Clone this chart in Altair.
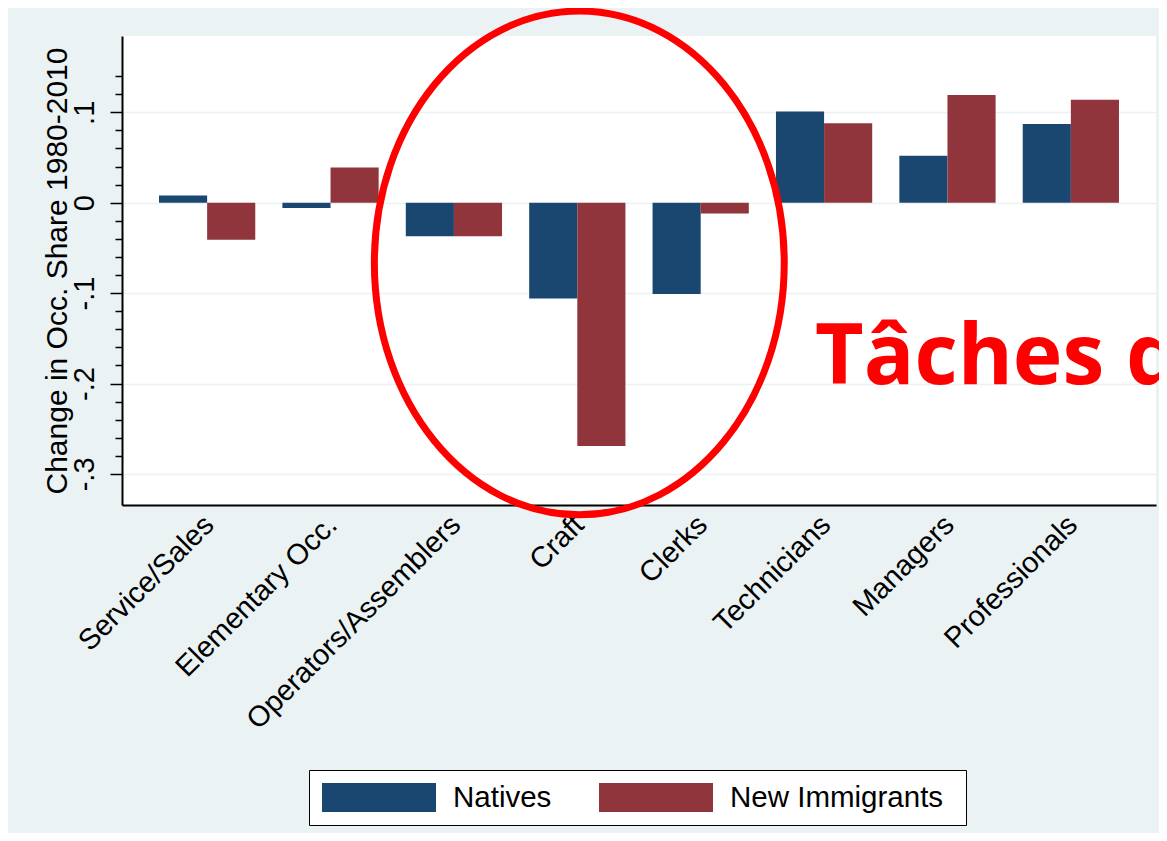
import altair as alt
import pandas as pd

categories = ["Service/Sales", "Elementary Occ.", "Operators/Assemblers", "Craft",
              "Clerks", "Technicians", "Managers", "Professionals"]
series = ["Natives", "New Immigrants"]
natives = [0.008, -0.006, -0.037, -0.106, -0.101, 0.101, 0.052, 0.087]
immigrants = [-0.041, 0.039, -0.037, -0.269, -0.012, 0.088, 0.119, 0.114]
colors = ["#1A476F", "#90353B"]

y_ticks = [-0.3, -0.28, -0.26, -0.24, -0.22, -0.2, -0.18, -0.16, -0.14, -0.12,
           -0.1, -0.08, -0.06, -0.04, -0.02, 0, 0.02, 0.04, 0.06, 0.08, 0.1,
           0.12, 0.14]
y_domain = [-0.3344, 0.1844]

# annotation anchors (data coordinates)
ellipse_cat = ["Craft"]
ellipse_val = [-0.0655]
note_cat = ["Technicians"]
note_val = [-0.2]
note_text = ["Tâches de"]

rows = []
for c, n, m in zip(categories, natives, immigrants):
    rows.append({"occ": c, "group": series[0], "value": n})
    rows.append({"occ": c, "group": series[1], "value": m})
df = pd.DataFrame(rows)

FONT = "Liberation Sans"
major = "abs(datum.value * 10 - round(datum.value * 10)) < 0.001"
label_expr = ("datum.value == 0 ? '0' : (" + major +
              " ? (datum.value < 0 ? '-' : '') + '.' + toString(round(abs(datum.value) * 10)) : '')")

x_enc = alt.X(
    "occ:N", sort=categories, title=None,
    scale=alt.Scale(paddingInner=0.22, paddingOuter=0.3),
    axis=alt.Axis(labelAngle=-45, labelFontSize=29, labelFont=FONT, labelColor="#000000",
                  labelPadding=5, labelOffset=-8, ticks=False, labelLimit=500,
                  labelOverlap=False, domainColor="#000000", domainWidth=2, grid=False),
)
y_enc = alt.Y(
    "value:Q",
    scale=alt.Scale(domain=y_domain, nice=False, zero=False),
    axis=alt.Axis(
        values=y_ticks, tickCount=200, labelExpr=label_expr, labelAngle=-90,
        labelAlign="center", labelBaseline="alphabetic", labelFontSize=29, labelFont=FONT,
        labelColor="#000000", labelPadding=17, labelOverlap=False, labelFlush=False,
        tickSize={"condition": {"test": major, "value": 12}, "value": 7},
        tickColor="#000000", tickWidth=1.5,
        grid=True, gridColor="#EAF2F3", gridWidth=1.5,
        gridOpacity={"condition": {"test": major, "value": 1}, "value": 0},
        domainColor="#000000", domainWidth=2,
        title="Change in Occ. Share 1980-2010", titleFont=FONT, titleFontSize=30,
        titleFontWeight="normal", titleColor="#000000", titleAngle=-90,
        titleAlign="center", titleBaseline="alphabetic", titleX=-56, titleY=234.5,
    ),
)

bars = alt.Chart(df).mark_bar().encode(
    x=x_enc,
    xOffset=alt.XOffset("group:N", sort=series,
                        scale=alt.Scale(paddingInner=0, paddingOuter=0)),
    y=y_enc,
    color=alt.Color(
        "group:N",
        scale=alt.Scale(domain=series, range=colors),
        legend=alt.Legend(
            title=" ", titleOrient="right", titleFontSize=1, titlePadding=10,
            orient="none", legendX=187, legendY=734, direction="horizontal",
            symbolType="M-1,-0.2544H1V0.2544H-1Z", symbolSize=12996, clipHeight=29,
            symbolStrokeWidth=0, symbolOpacity=1,
            labelFont=FONT, labelFontSize=29.5, labelColor="#000000", labelOffset=17,
            labelLimit=500, columnPadding=47, padding=13,
            strokeColor="#000000", fillColor="#FFFFFF",
        ),
    ),
)

k = 0.5523
b = 1.229
kb = round(k * b, 4)
ell_path = (f"M1,0C1,{kb} {k},{b} 0,{b}C{-k},{b} -1,{kb} -1,0"
            f"C-1,{-kb} {-k},{-b} 0,{-b}C{k},{-b} 1,{-kb} 1,0Z")

ell_df = pd.DataFrame({"occ": ellipse_cat, "value": ellipse_val})
ellipse = alt.Chart(ell_df).mark_point(
    shape=ell_path, size=168000, filled=False, stroke="#FF0000", strokeWidth=7, opacity=1,
    xOffset=2, yOffset=1
).encode(
    x=alt.X("occ:N", sort=categories),
    y=alt.Y("value:Q"),
)

note_df = pd.DataFrame({"occ": note_cat, "value": note_val, "txt": note_text})
note = alt.Chart(note_df).mark_text(
    align="left", baseline="alphabetic", dx=-9, font="Open Sans", fontWeight="bold",
    fontSize=84, color="#FF0000"
).encode(
    x=alt.X("occ:N", sort=categories),
    y=alt.Y("value:Q"),
    text="txt:N",
)

chart = alt.layer(bars, ellipse, note).properties(
    width=1034, height=469,
    padding={"left": 114, "top": 28, "right": 3, "bottom": 328},
    autosize=alt.AutoSizeParams(type="none"),
    background="#EAF2F3",
).configure_view(fill="#FFFFFF", strokeWidth=0)

chart.save("out.html", embed_options={"renderer": "svg", "actions": False})
